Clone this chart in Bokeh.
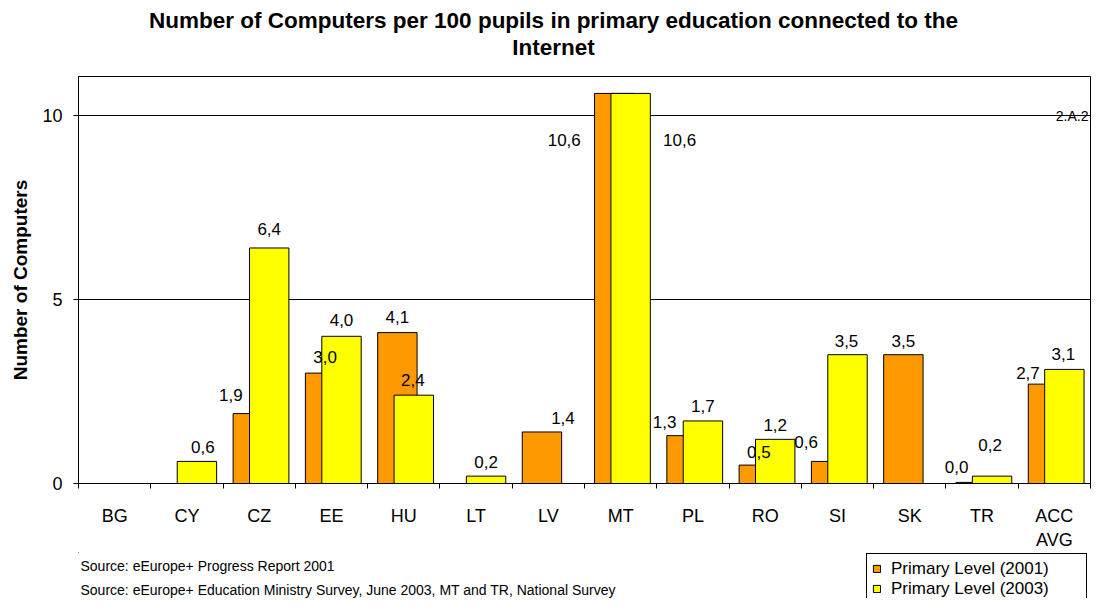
from bokeh.plotting import figure
from bokeh.layouts import column
from bokeh.models import (ColumnDataSource, Range1d, FixedTicker, LabelSet, Label,
                          Legend, LegendItem)
from bokeh.embed import file_html
from bokeh.resources import INLINE
from bokeh.core.properties import value

# ---------------- data ----------------
categories = ["BG", "CY", "CZ", "EE", "HU", "LT", "LV", "MT", "PL", "RO", "SI", "SK", "TR", "ACC\nAVG"]
level_2001 = [None, None, 1.9, 3.0, 4.1, None, 1.4, 10.6, 1.3, 0.5, 0.6, 3.5, 0.03, 2.7]
level_2003 = [None, 0.6, 6.4, 4.0, 2.4, 0.2, None, 10.6, 1.7, 1.2, 3.5, None, 0.2, 3.1]
y_ticks = [0, 5, 10]
title_lines = ["Number of Computers per 100 pupils in primary education connected to the", "Internet"]
y_title = "Number of Computers"
legend_labels = ["Primary Level (2001)", "Primary Level (2003)"]
source_notes = ["Source: eEurope+ Progress Report 2001",
                "Source: eEurope+ Education Ministry Survey, June 2003, MT and TR, National Survey"]
page_code = "2.A.2"

# ---------------- label nudges (pixels) ----------------
nudge_x_2001 = [0, 0, -22, 0, 0, 0, 21, -50, -22, 0, -25, 0, -19, -20]
nudge_h_2001 = [15, 15, 19, 16, 16, 15, 14, -47, 14, 13, 19, 14, 15, 11]
nudge_x_2003 = [0, 6, 0, 0, -1, 0, 0, 49, 0, 0, -1, 0, -2, -1]
nudge_h_2003 = [15, 14, 19, 16, 15, 14, 15, -47, 15, 14, 14, 15, 31, 15]

# ---------------- layout constants ----------------
FONT = "Liberation Sans"
W = 1091
TOP_H, BOT_H = 68, 46
BORDER_L, BORDER_R, BORDER_T, BORDER_B = 78, 1, 8, 67
FRAME_W, FRAME_H = W - BORDER_L - BORDER_R, 407
PPY = 36.8
Y_MAX = FRAME_H / PPY
N = len(categories)
PPX = FRAME_W / N
BAR_W = 39.4 / PPX
OFF_2001, OFF_2003 = -6.4 / PPX, 10.0 / PPX
ORANGE, YELLOW = "#FF9900", "#FFFF00"


def fmt(v):
    return f"{v:.1f}".replace(".", ",")


def make_source(vals, off, nx, nh):
    xs, tops, labels, dxs, dys = [], [], [], [], []
    for i, v in enumerate(vals):
        if v is None:
            continue
        xs.append(i + 0.5 + off)
        tops.append(v)
        labels.append(fmt(v))
        dxs.append(nx[i])
        dys.append(nh[i])
    return ColumnDataSource(dict(x=xs, top=tops, label=labels, dx=dxs, dy=dys))


def blank_figure(h):
    # frames in a column are aligned with the main chart's frame, so the x range
    # is set so that data x equals the canvas pixel column
    f = figure(width=W, height=h, output_backend="svg", toolbar_location=None,
               x_range=Range1d(BORDER_L, W - BORDER_R), y_range=Range1d(h, 0), title=None,
               x_axis_location=None, y_axis_location=None,
               min_border=0, min_border_left=BORDER_L, min_border_right=BORDER_R,
               min_border_top=0, min_border_bottom=0)
    f.grid.visible = False
    f.outline_line_color = None
    f.background_fill_color = "white"
    f.border_fill_color = "white"
    return f


# ---------------- title strip ----------------
top = blank_figure(TOP_H)
top.text(x=[553, 553], y=[20, 47], text=title_lines, text_align="center",
         text_baseline="middle", text_font=value(FONT), text_font_size="22.5px",
         text_font_style="bold", text_color="black")

# ---------------- main chart ----------------
src_2001 = make_source(level_2001, OFF_2001, nudge_x_2001, nudge_h_2001)
src_2003 = make_source(level_2003, OFF_2003, nudge_x_2003, nudge_h_2003)

p = figure(frame_width=FRAME_W, frame_height=FRAME_H, output_backend="svg",
           toolbar_location=None, title=None,
           x_range=Range1d(0, N), y_range=Range1d(0, Y_MAX),
           min_border_left=BORDER_L, min_border_right=BORDER_R,
           min_border_top=BORDER_T, min_border_bottom=BORDER_B)
p.background_fill_color = "white"
p.border_fill_color = "white"
p.outline_line_color = "black"
p.outline_line_width = 1
p.outline_line_alpha = 1

p.xgrid.visible = False
p.ygrid.ticker = FixedTicker(ticks=y_ticks)
p.ygrid.grid_line_color = "black"
p.ygrid.grid_line_alpha = 1
p.ygrid.grid_line_width = 1

xa = p.xaxis[0]
xa.ticker = FixedTicker(ticks=[i + 0.5 for i in range(N)], minor_ticks=list(range(N + 1)))
xa.major_label_overrides = {i + 0.5: c for i, c in enumerate(categories)}
xa.major_tick_out = 0
xa.major_tick_in = 0
xa.minor_tick_out = 5
xa.minor_tick_in = 0
xa.minor_tick_line_color = "black"
xa.axis_line_color = "black"
xa.major_label_standoff = 17
xa.major_label_text_font = FONT
xa.major_label_text_font_size = "18px"
xa.major_label_text_color = "black"

ya = p.yaxis[0]
ya.ticker = FixedTicker(ticks=y_ticks, minor_ticks=[])
ya.major_tick_out = 5
ya.major_tick_in = 0
ya.major_tick_line_color = "black"
ya.axis_line_color = "black"
ya.major_label_standoff = 11
ya.major_label_text_font = FONT
ya.major_label_text_font_size = "18px"
ya.major_label_text_color = "black"
ya.axis_label = y_title
ya.axis_label_text_font = FONT
ya.axis_label_text_font_style = "bold"
ya.axis_label_text_font_size = "19px"
ya.axis_label_text_color = "black"
ya.axis_label_standoff = 8

r1 = p.vbar(x="x", top="top", bottom=0, width=BAR_W, source=src_2001,
            fill_color=ORANGE, line_color="black", line_width=1)
r2 = p.vbar(x="x", top="top", bottom=0, width=BAR_W, source=src_2003,
            fill_color=YELLOW, line_color="black", line_width=1)

for src in (src_2001, src_2003):
    p.add_layout(LabelSet(x="x", y="top", text="label", source=src,
                          x_offset="dx", y_offset="dy",
                          text_align="center", text_baseline="middle",
                          text_font=value(FONT), text_font_size="17px",
                          text_color="black"))

p.add_layout(Label(x=N, y=y_ticks[-1], text=page_code, x_offset=-2, y_offset=0,
                   text_align="right", text_baseline="middle",
                   text_font=FONT, text_font_size="14px", text_color="black"))

# ---------------- notes + legend strip ----------------
bot = blank_figure(BOT_H)
bot.text(x=[80, 80], y=[13, 37], text=source_notes, text_align="left",
         text_baseline="middle", text_font=value(FONT), text_font_size="14px",
         text_color="black")
# legend keys: one zero-size bar each, placed far outside the visible range
k1 = bot.vbar(x=[-5000], top=[-5000], bottom=[-5000], width=0, fill_color=ORANGE,
              line_color="black", line_width=1)
k2 = bot.vbar(x=[-5000], top=[-5000], bottom=[-5000], width=0, fill_color=YELLOW,
              line_color="black", line_width=1)
LEG_LEFT, LEG_TOP, LEG_PAD, LEG_LH, LEG_SP, LEG_FS = 866, 2, 5, 20.4, 0, 17
leg_h = 2 * LEG_PAD + 2 * LEG_LH + LEG_SP
legend = Legend(items=[LegendItem(label=legend_labels[0], renderers=[k1]),
                       LegendItem(label=legend_labels[1], renderers=[k2])],
                location=(LEG_LEFT - BORDER_L, BOT_H - LEG_TOP - leg_h))
legend.border_line_color = "black"
legend.border_line_width = 1
legend.border_line_alpha = 1
legend.background_fill_color = "white"
legend.background_fill_alpha = 1
legend.padding = LEG_PAD
legend.spacing = LEG_SP
legend.margin = 0
legend.label_height = 20
legend.glyph_height = 9
legend.glyph_width = 9
legend.label_standoff = 10
legend.label_width = 190
legend.label_text_font = FONT
legend.label_text_font_size = f"{LEG_FS}px"
legend.label_text_color = "black"
legend.label_text_baseline = "middle"
bot.add_layout(legend, "center")

layout = column(top, p, bot, spacing=0)
open("out.html", "w").write(file_html(layout, INLINE))
